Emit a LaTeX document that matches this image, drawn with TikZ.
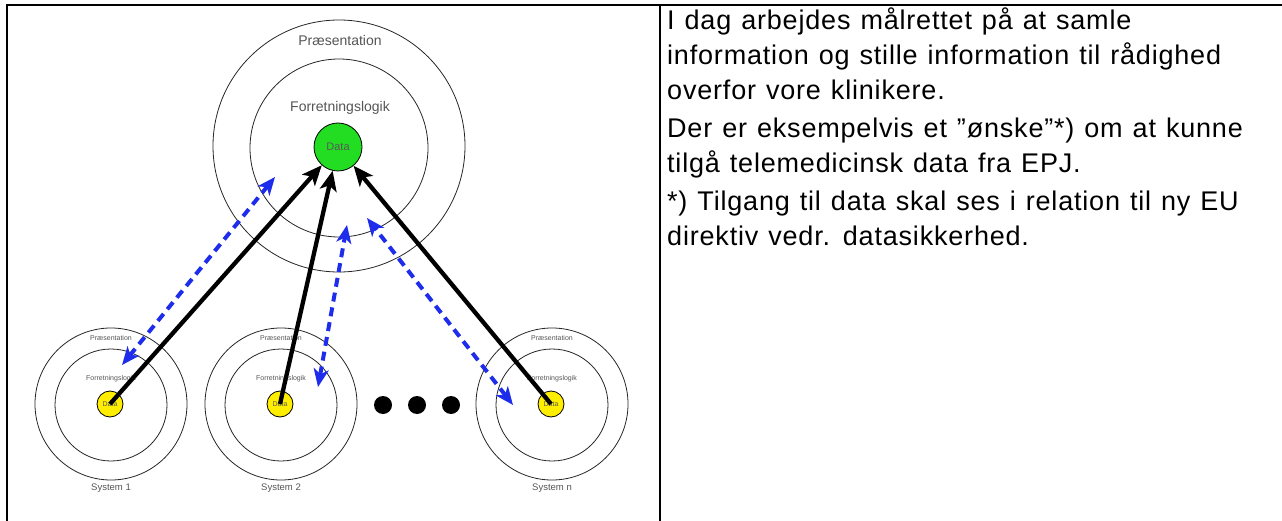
\documentclass[tikz,border=0pt]{standalone}
\usepackage{fontspec}
\setmainfont{Liberation Sans}
\newfontfamily\cellfont[LetterSpace=3,WordSpace=1.2]{Liberation Sans}
\usetikzlibrary{arrows.meta,positioning}

\definecolor{datagreen}{RGB}{34,221,34}
\definecolor{datayellow}{RGB}{255,238,0}
\definecolor{linkblue}{RGB}{30,45,235}
\definecolor{labelgray}{RGB}{85,85,85}

\tikzset{
  ring/.style={circle,draw=black!85,line width=0.8pt,inner sep=0pt},
  datanode/.style={circle,draw=black,line width=0.8pt,inner sep=0pt,text=black!65},
  layerlabel/.style={text=labelgray,inner sep=0pt},
  pull/.style={line width=4.3pt,-{Stealth[length=20pt,width=17pt,inset=5pt]}},
  sync/.style={linkblue,line width=4pt,dash pattern=on 9pt off 6pt,
    {Stealth[length=18pt,width=15pt,inset=5pt]}-{Stealth[length=18pt,width=15pt,inset=5pt]}},
  bodytext/.style={anchor=base west,inner sep=0pt,font=\cellfont\fontsize{27}{31}\selectfont},
  tableline/.style={line width=1.8pt}
}

\begin{document}
\begin{tikzpicture}[x=1pt,y=-1pt]
  \useasboundingbox (0,0) rectangle (1282,521);
  % table frame
  \draw[tableline] (7,521) -- (7,5) -- (1282,5);
  \draw[tableline] (660,5) -- (660,521);

  % central system
  \node[ring,minimum size=252pt] (bigout) at (339,146) {};
  \node[ring,minimum size=178pt] (bigin) at (339,148) {};
  \node[datanode,fill=datagreen,minimum size=48pt,font=\fontsize{11}{12}\selectfont] (bigdata) at (338,147) {Data};
  \node[layerlabel,font=\fontsize{14}{16}\selectfont] (bigpres) at (340,40) {Præsentation};
  \node[layerlabel,font=\fontsize{14}{16}\selectfont] (biglogic) at (340,108) {Forretningslogik};

  % the local systems
  \foreach \x/\n in {111/1,281/2,552/n}{
    \node[ring,minimum size=152pt] (s\n out) at (\x,404) {};
    \node[ring,minimum size=112pt] (s\n in) at (\x,405) {};
    \node[datanode,fill=datayellow,minimum size=26pt,font=\fontsize{7}{8}\selectfont] (s\n data) at (\x-1,404) {Data};
    \node[layerlabel,font=\fontsize{7}{8}\selectfont] (s\n pres) at (\x,338) {Præsentation};
    \node[layerlabel,font=\fontsize{7}{8}\selectfont] (s\n logic) at (\x,379) {Forretningslogik};
    \node[layerlabel,font=\fontsize{9.5}{11}\selectfont] (s\n name) at (\x,488) {System \n};
  }

  % more systems
  \foreach \x [count=\i] in {383,417,451}
    \node[circle,fill=black,minimum size=18pt,inner sep=0pt] (dot\i) at (\x,405) {};

  % data pulled to the centre
  \draw[pull] (s1data.center) -- (bigdata);
  \draw[pull] (s2data.center) -- (bigdata);
  \draw[pull] (sndata.center) -- (bigdata);

  % exchange between the layers
  \coordinate (x1a) at (122,365);
  \coordinate (x1b) at (275,177);
  \coordinate (x2a) at (318,387);
  \coordinate (x2b) at (347,225);
  \coordinate (x3a) at (513,405);
  \coordinate (x3b) at (367,218);
  \draw[sync] (x1a) -- (x1b);
  \draw[sync] (x2a) -- (x2b);
  \draw[sync] (x3a) -- (x3b);

  % right column
  \foreach \y/\txt [count=\i] in {
    30/{I dag arbejdes målrettet på at samle},
    65/{information og stille information til rådighed},
    100/{overfor vore klinikere.},
    138/{Der er eksempelvis et ”ønske”*) om at kunne},
    173/{tilgå telemedicinsk data fra EPJ.},
    211/{*) Tilgang til data skal ses i relation til ny EU},
    246/{direktiv vedr. datasikkerhed.}}
    \node[bodytext] (t\i) at (667,\y) {\txt};
\end{tikzpicture}
\end{document}
